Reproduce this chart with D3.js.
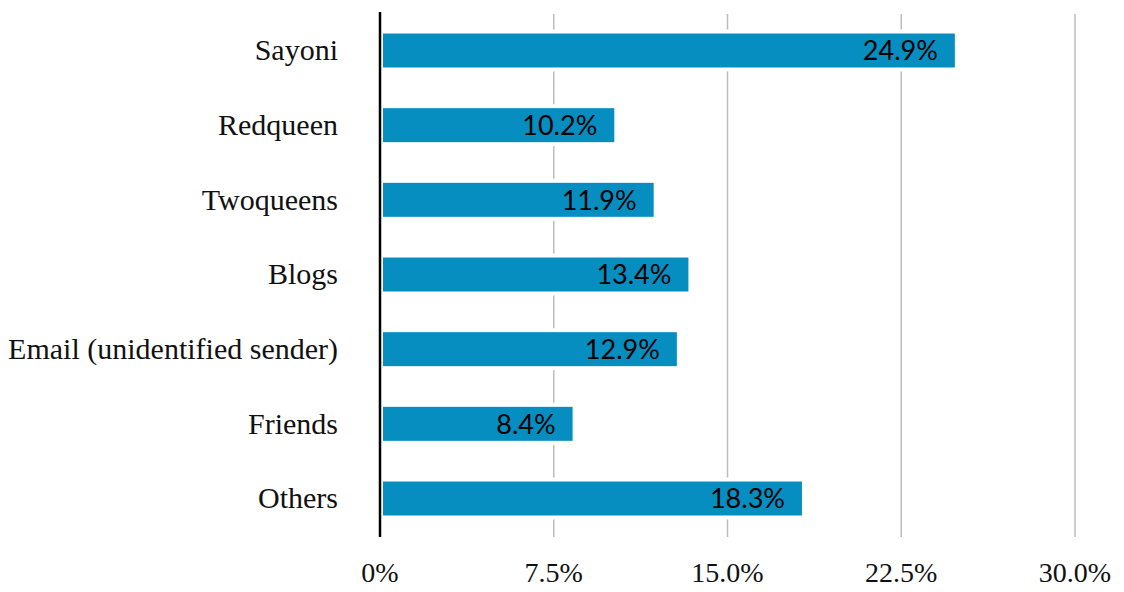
<!DOCTYPE html>
<html lang="en">
<head>
<meta charset="UTF-8">
<title>Sources</title>
<script src="https://d3js.org/d3.v7.min.js"></script>
<style>
    body { margin: 0; background: white; }
    .cat { font-family: "Liberation Serif", serif; font-size: 30px; fill: #111; }
    .tick-label { font-family: "Liberation Serif", serif; font-size: 28px; fill: #111; }
    .val { font-family: Lato, "Open Sans", sans-serif; font-size: 27px; fill: #000; }
</style>
</head>
<body>
<svg width="1124" height="592"></svg>
<script>
    const categories = ["Sayoni", "Redqueen", "Twoqueens", "Blogs", "Email (unidentified sender)", "Friends", "Others"];
    const shares = [24.9, 10.2, 11.9, 13.4, 12.9, 8.4, 18.3];
    const ticks = [0, 7.5, 15, 22.5, 30];
    const tickLabels = ["0%", "7.5%", "15.0%", "22.5%", "30.0%"];

    const svg = d3.select("svg");
    const x = d3.scaleLinear().domain([0, 30]).range([380, 1075]);
    const y = d3.scaleBand().domain(categories).range([12, 537])
        .paddingInner(0.545).paddingOuter(0.288);

    // grid
    svg.append("g").selectAll("line")
        .data(ticks.slice(1))
        .join("line")
        .attr("x1", d => x(d)).attr("x2", d => x(d))
        .attr("y1", 14).attr("y2", 537)
        .attr("stroke", "#bdbdbd").attr("stroke-width", 1.5);

    const rows = categories.map((c, i) => ({ cat: c, v: shares[i] }));

    // white halo so the grid breaks around bars
    svg.append("g").selectAll("rect")
        .data(rows)
        .join("rect")
        .attr("x", x(0))
        .attr("y", d => y(d.cat) - 4)
        .attr("width", d => x(d.v) - x(0) + 2)
        .attr("height", y.bandwidth() + 8)
        .attr("fill", "white");

    svg.append("g").selectAll("rect")
        .data(rows)
        .join("rect")
        .attr("x", x(0) + 3)
        .attr("y", d => y(d.cat))
        .attr("width", d => x(d.v) - x(0) - 5)
        .attr("height", y.bandwidth())
        .attr("fill", "#068ec1");

    svg.append("g").selectAll("text")
        .data(rows)
        .join("text")
        .attr("class", "val")
        .attr("x", d => x(d.v) - 19)
        .attr("y", d => y(d.cat) + y.bandwidth() / 2)
        .attr("dy", "0.36em")
        .attr("text-anchor", "end")
        .text(d => d.v.toFixed(1) + "%");

    // category labels
    svg.append("g").selectAll("text")
        .data(categories)
        .join("text")
        .attr("class", "cat")
        .attr("x", 338)
        .attr("y", d => y(d) + y.bandwidth() / 2)
        .attr("dy", "0.33em")
        .attr("text-anchor", "end")
        .text(d => d);

    // zero axis line
    svg.append("line")
        .attr("x1", x(0)).attr("x2", x(0))
        .attr("y1", 12).attr("y2", 537)
        .attr("stroke", "#000").attr("stroke-width", 2.5);

    // x tick labels
    svg.append("g").selectAll("text")
        .data(ticks)
        .join("text")
        .attr("class", "tick-label")
        .attr("x", d => x(d))
        .attr("y", 582)
        .attr("text-anchor", "middle")
        .text((d, i) => tickLabels[i]);
</script>
</body>
</html>
